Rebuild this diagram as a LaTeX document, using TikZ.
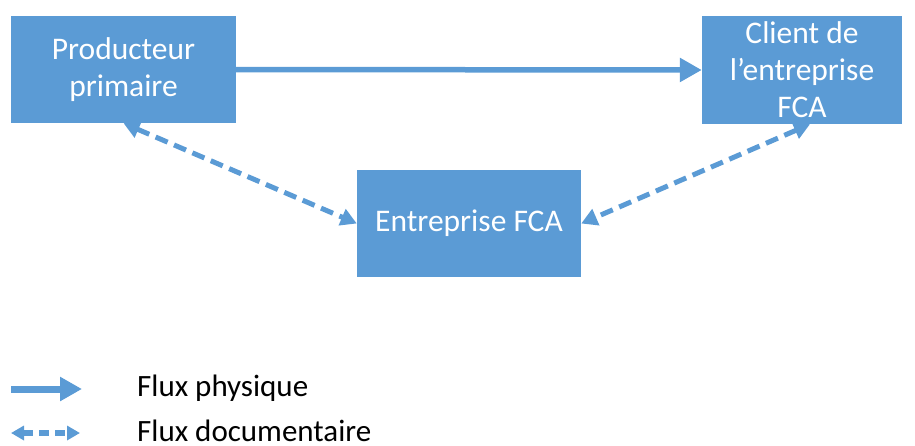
\documentclass[tikz,border=0pt]{standalone}
\usepackage{fontspec}
\setmainfont{Carlito}
\usetikzlibrary{arrows.meta}
\definecolor{boxblue}{HTML}{5B9BD5}
\tikzset{
  bloc/.style={rectangle, fill=boxblue, text=white, inner sep=0pt, align=center, font=\fontsize{31.5}{37}\selectfont},
  physique/.style={draw=boxblue, line width=5.5pt, -{Triangle[length=22pt,width=23pt]}},
  documentaire/.style={draw=boxblue, line width=5pt, dash pattern=on 13pt off 7pt, {Triangle[length=16pt,width=17pt]}-{Triangle[length=16pt,width=17pt]}},
  legende/.style={anchor=west, inner sep=0pt, font=\fontsize{31}{37}\selectfont}
}
\begin{document}
\begin{tikzpicture}[x=1pt,y=1pt]
\useasboundingbox (0,0) rectangle (915,-445);
\node[bloc, minimum width=225pt, minimum height=107pt] (prod) at (123.5,-69.5){Producteur\\primaire};
\node[bloc, minimum width=200pt, minimum height=108pt] (client) at (802,-70){Client de\\l’entreprise\\FCA};
\node[bloc, minimum width=224pt, minimum height=107pt] (fca) at (469,-223.5){Entreprise FCA};
\draw[physique](prod.east) -- (client.west);
\draw[documentaire](prod.south) -- (fca.west);
\draw[documentaire]([xshift=8pt]client.south) -- (fca.east);
\coordinate (phys1) at (11,-389);
\coordinate (phys2) at (82,-389);
\coordinate (doc1) at (11,-433);
\coordinate (doc2) at (80,-433);
\draw[physique, line width=7pt, -{Triangle[length=22pt,width=23pt]}](phys1) -- (phys2);
\draw[documentaire, line width=5.5pt, dash pattern=on 10pt off 6pt, {Triangle[length=13pt,width=14pt]}-{Triangle[length=13pt,width=14pt]}](doc1) -- (doc2);
\node[legende] (lphys) at (137,-388){Flux physique};
\node[legende] (ldoc) at (137,-431){Flux documentaire};
\end{tikzpicture}
\end{document}
